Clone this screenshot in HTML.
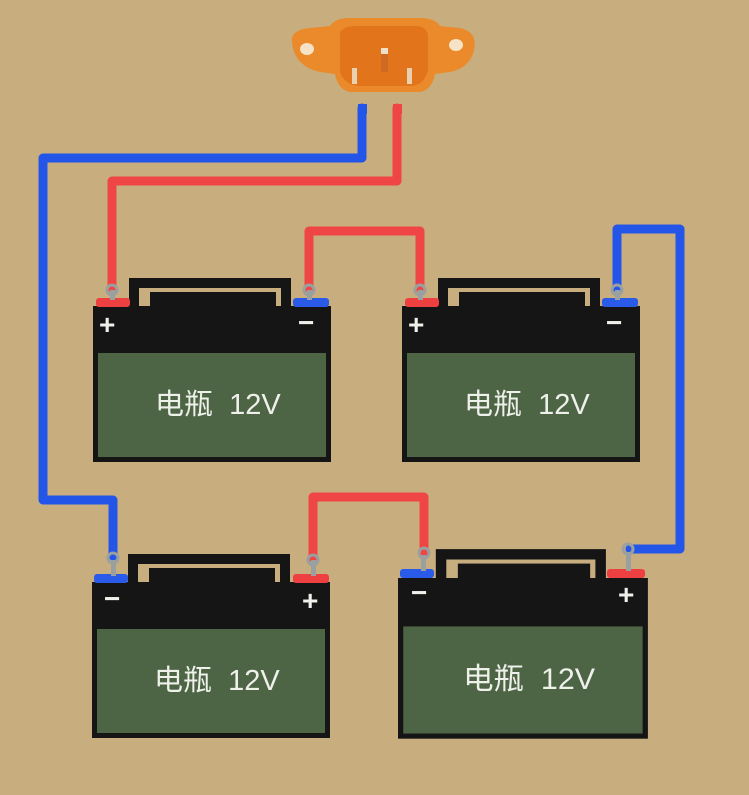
<!DOCTYPE html>
<html><head><meta charset="utf-8"><style>
html,body{margin:0;padding:0;background:#c8ad7f;}
svg{display:block}
text{font-family:"Liberation Sans","Noto Sans CJK SC",sans-serif;fill:#eef0ea}
</style></head><body>
<svg width="749" height="795" viewBox="0 0 749 795" xmlns="http://www.w3.org/2000/svg">
<rect width="749" height="795" fill="#c8ad7f"/>
<defs>
<g id="bat">
  <path d="M36 32 V-28 H198 V32 H188 V-18 H46 V32 Z" fill="#151515"/>
  <rect x="57" y="-14" width="126" height="46" fill="#151515"/>
  <rect x="0" y="0" width="238" height="156" fill="#151515"/>
  <rect x="5" y="47" width="228" height="104" fill="#4d6445"/>
  <text x="62" y="108" font-size="29">电瓶&#160;&#160;12V</text>
</g>
</defs>
<g fill="none" stroke-width="9" stroke-linejoin="round" stroke-linecap="round">
  <path d="M362 108 V158 H43 V500 H113 V556" stroke="#2355e8"/>
  <path d="M397 108 V181 H112 V288" stroke="#ef4545"/>
  <path d="M309 288 V231 H420 V288" stroke="#ef4545"/>
  <path d="M617 288 V229 H680 V549 H630" stroke="#2355e8"/>
  <path d="M313 558 V497 H424 V553" stroke="#ef4545"/>
</g>
<use href="#bat" x="93" y="306"/>
<use href="#bat" x="402" y="306"/>
<use href="#bat" x="92" y="582"/>
<g transform="translate(398,578) scale(1.05,1.03)"><use href="#bat"/></g>
<g>
  <rect x="96" y="298" width="34" height="9" rx="3" fill="#ee4040"/>
  <rect x="293" y="298" width="36" height="9" rx="3" fill="#2a5ae8"/>
  <rect x="405" y="298" width="34" height="9" rx="3" fill="#ee4040"/>
  <rect x="602" y="298" width="36" height="9" rx="3" fill="#2a5ae8"/>
  <rect x="94" y="574" width="34" height="9" rx="3" fill="#2a5ae8"/>
  <rect x="293" y="574" width="36" height="9" rx="3" fill="#ee4040"/>
  <rect x="400" y="569" width="34" height="9" rx="3" fill="#2a5ae8"/>
  <rect x="607" y="569" width="38" height="9" rx="3" fill="#ee4040"/>
</g>
<g fill="#9aa0a0">
  <rect x="110" y="290" width="5" height="10"/><circle cx="112" cy="290" r="5" fill="none" stroke="#9aa0a0" stroke-width="3"/>
  <rect x="307" y="290" width="5" height="10"/><circle cx="309" cy="290" r="5" fill="none" stroke="#9aa0a0" stroke-width="3"/>
  <rect x="418" y="290" width="5" height="10"/><circle cx="420" cy="290" r="5" fill="none" stroke="#9aa0a0" stroke-width="3"/>
  <rect x="615" y="290" width="5" height="10"/><circle cx="617" cy="290" r="5" fill="none" stroke="#9aa0a0" stroke-width="3"/>
  <rect x="111" y="560" width="5" height="16"/><circle cx="113" cy="558" r="5" fill="none" stroke="#9aa0a0" stroke-width="3"/>
  <rect x="311" y="560" width="5" height="16"/><circle cx="313" cy="560" r="5" fill="none" stroke="#9aa0a0" stroke-width="3"/>
  <rect x="421" y="555" width="5" height="16"/><circle cx="424" cy="553" r="5" fill="none" stroke="#9aa0a0" stroke-width="3"/>
  <rect x="626" y="552" width="5" height="19"/><circle cx="628" cy="549" r="5" fill="none" stroke="#9aa0a0" stroke-width="3"/>
</g>
<g font-size="28" font-weight="bold">
  <text x="99" y="334">+</text><text x="298" y="332">−</text>
  <text x="408" y="334">+</text><text x="606" y="332">−</text>
  <text x="104" y="608">−</text><text x="302" y="610">+</text>
  <text x="411" y="602">−</text><text x="618" y="604">+</text>
</g>
<g>
  <path d="M292 42 Q290 30 310 28 L330 26 Q335 18 350 18 H420 Q435 18 440 26 L460 28 Q478 32 474 50 Q470 68 450 72 L435 74 Q432 90 420 92 H350 Q338 90 335 74 L320 72 Q294 66 292 42Z" fill="#ea8a2a"/>
  <ellipse cx="307" cy="49" rx="7" ry="6" fill="#f6e2c6"/>
  <ellipse cx="456" cy="45" rx="7" ry="6" fill="#f6e2c6"/>
  <path d="M340 32 Q345 26 355 26 H415 Q425 26 428 34 L428 70 Q425 84 412 86 H358 Q344 84 340 72Z" fill="#e2741c"/>
  <rect x="381" y="50" width="7" height="22" fill="#d06a22"/>
  <rect x="381" y="48" width="7" height="6" fill="#eee0c8"/>
  <rect x="352" y="68" width="5" height="16" fill="#e8d0b0"/>
  <rect x="407" y="68" width="5" height="16" fill="#e8d0b0"/>
  <rect x="358" y="104" width="9" height="10" fill="#2355e8"/>
  <rect x="393" y="104" width="9" height="10" fill="#ef4545"/>
</g>
</svg>
</body></html>
